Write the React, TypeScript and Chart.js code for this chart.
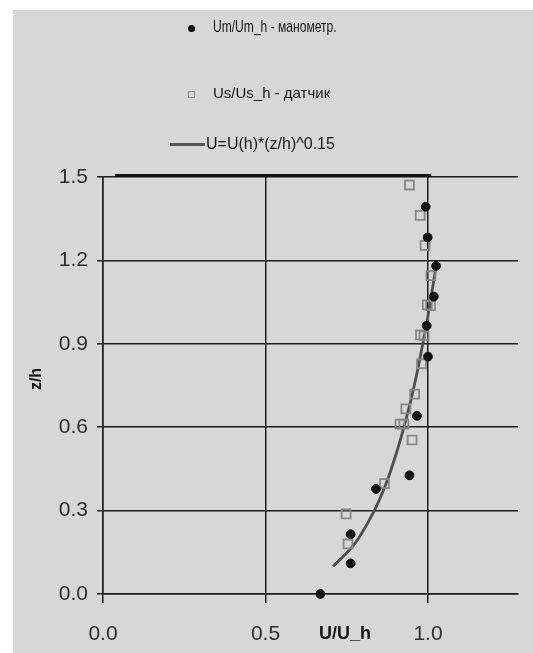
import React, { useEffect, useRef } from "react";
import { Chart, registerables } from "chart.js";
Chart.register(...registerables);

// Um/Um_h - манометр (filled circles)
const umU = [0.669, 0.762, 0.762, 0.84, 0.943, 0.966, 1.0, 0.996, 1.018, 1.025, 0.999, 0.993];
const umZ = [0.0, 0.11, 0.215, 0.378, 0.427, 0.641, 0.854, 0.965, 1.07, 1.18, 1.283, 1.393];
// Us/Us_h - датчик (open squares)
const usU = [0.754, 0.748, 0.866, 0.951, 0.914, 0.926, 0.932, 0.959, 0.98, 0.977, 0.988, 0.998, 1.008, 1.009, 0.991, 0.976, 0.943];
const usZ = [0.18, 0.288, 0.397, 0.554, 0.611, 0.611, 0.666, 0.719, 0.828, 0.932, 0.929, 1.04, 1.037, 1.145, 1.254, 1.362, 1.471];
// U=U(h)*(z/h)^0.15 curve
const fitZ = [0.1, 0.15, 0.2, 0.3, 0.4, 0.5, 0.6, 0.7, 0.8, 0.9, 1.0, 1.1, 1.2];
const fitU = [0.708, 0.752, 0.786, 0.835, 0.872, 0.901, 0.926, 0.948, 0.967, 0.984, 1.0, 1.014, 1.028];
// heavy line at the top of the plot
const topU = [0.037, 1.01];
const topZ = [1.505, 1.505];

const xTicks = [0, 0.5, 1.0];
const yTicks = [0, 0.3, 0.6, 0.9, 1.2, 1.5];
const xMax = 1.277;

const legendLabels = ["Um/Um_h - манометр.", "Us/Us_h - датчик", "U=U(h)*(z/h)^0.15"];
const xTitle = "U/U_h";
const yTitle = "z/h";

const FONT = "'Liberation Sans', Arial, sans-serif";
const GRID = "#1c1c1c";

const pts = (xs: number[], ys: number[]) => xs.map((x, i) => ({ x, y: ys[i] }));

export default function App() {
  const ref = useRef<HTMLCanvasElement | null>(null);

  useEffect(() => {
    if (!ref.current) return;
    const chart = new Chart(ref.current, {
      type: "scatter",
      data: {
        datasets: [
          {
            label: legendLabels[0],
            data: pts(umU, umZ),
            pointStyle: "circle",
            pointRadius: 4.4,
            backgroundColor: "#111111",
            borderColor: "#111111",
            borderWidth: 1,
            clip: false,
          } as any,
          {
            label: legendLabels[1],
            data: pts(usU, usZ),
            pointStyle: "rect",
            pointRadius: 6.3,
            backgroundColor: "rgba(0,0,0,0)",
            borderColor: "#878787",
            borderWidth: 1.8,
            clip: false,
          } as any,
          {
            type: "line",
            label: legendLabels[2],
            data: pts(fitU, fitZ),
            showLine: true,
            borderColor: "#4e4e4e",
            borderWidth: 2.8,
            pointRadius: 0,
            tension: 0.3,
            clip: false,
          } as any,
          {
            type: "line",
            label: "",
            data: pts(topU, topZ),
            showLine: true,
            borderColor: "#111111",
            borderWidth: 3,
            pointRadius: 0,
            clip: false,
          } as any,
        ],
      },
      options: {
        animation: false,
        responsive: false,
        maintainAspectRatio: false,
        layout: { padding: { top: 167, right: 15, left: 0, bottom: 0 } },
        plugins: { legend: { display: false }, tooltip: { enabled: false } },
        scales: {
          x: {
            type: "linear",
            min: 0,
            max: xMax,
            afterBuildTicks: (a: any) => {
              a.ticks = xTicks.map((v) => ({ value: v }));
            },
            afterFit: (s: any) => {
              s.height = 59;
            },
            grid: { color: GRID, lineWidth: 1.5, tickLength: 9 },
            border: { color: GRID, width: 1.5 },
            ticks: {
              font: { family: FONT, size: 21 },
              color: "#2e2e2e",
              padding: 19,
              maxRotation: 0,
              autoSkip: false,
              callback: (v: any) => Number(v).toFixed(1),
            },
          },
          y: {
            type: "linear",
            min: 0,
            max: 1.5,
            afterBuildTicks: (a: any) => {
              a.ticks = yTicks.map((v) => ({ value: v }));
            },
            afterFit: (s: any) => {
              s.width = 90;
            },
            grid: { color: GRID, lineWidth: 1.5, tickLength: 6 },
            border: { color: GRID, width: 1.5 },
            ticks: {
              font: { family: FONT, size: 21 },
              color: "#2e2e2e",
              padding: 9,
              autoSkip: false,
              callback: (v: any) => Number(v).toFixed(1),
            },
          },
        },
      } as any,
    });
    return () => chart.destroy();
  }, []);

  const ox = 13;
  const oy = 10;
  const text: React.CSSProperties = {
    position: "absolute",
    fontFamily: FONT,
    color: "#151515",
    whiteSpace: "nowrap",
    lineHeight: "20px",
    height: 20,
  };

  return (
    <div style={{ position: "absolute", left: 0, top: 0, width: 533, height: 653, background: "#ffffff", overflow: "hidden" }}>
      <div style={{ position: "absolute", left: ox, top: oy, width: 520, height: 643, background: "#d7d7d7" }}>
        <canvas ref={ref} width={520} height={643} style={{ position: "absolute", left: 0, top: 0, width: 520, height: 643 }} />
        {/* legend */}
        <div style={{ position: "absolute", left: 191 - ox - 3.5, top: 28 - oy - 3.5, width: 7, height: 7, borderRadius: "50%", background: "#111" }} />
        <div style={{ ...text, left: 213 - ox, top: 27 - oy - 10, fontSize: 17, transform: "scaleX(0.71)", transformOrigin: "left center" }}>{legendLabels[0]}</div>
        <div style={{ position: "absolute", left: 191 - ox - 3.5, top: 94 - oy - 3.5, width: 5, height: 5, border: "1.3px solid #8a8a8a" }} />
        <div style={{ ...text, left: 213 - ox, top: 93 - oy - 10, fontSize: 15 }}>{legendLabels[1]}</div>
        <div style={{ position: "absolute", left: 170 - ox, top: 144 - oy - 1.5, width: 35, height: 3, background: "#555" }} />
        <div style={{ ...text, left: 206 - ox, top: 144 - oy - 10, fontSize: 16 }}>{legendLabels[2]}</div>
        {/* axis titles */}
        <div style={{ ...text, left: 345 - ox - 40, width: 80, textAlign: "center", top: 633 - oy - 10, fontSize: 18, fontWeight: "bold" }}>{xTitle}</div>
        <div style={{ ...text, left: 36 - ox - 20, width: 40, textAlign: "center", top: 379 - oy - 10, fontSize: 16, fontWeight: "bold", transform: "rotate(-90deg)" }}>{yTitle}</div>
      </div>
    </div>
  );
}
